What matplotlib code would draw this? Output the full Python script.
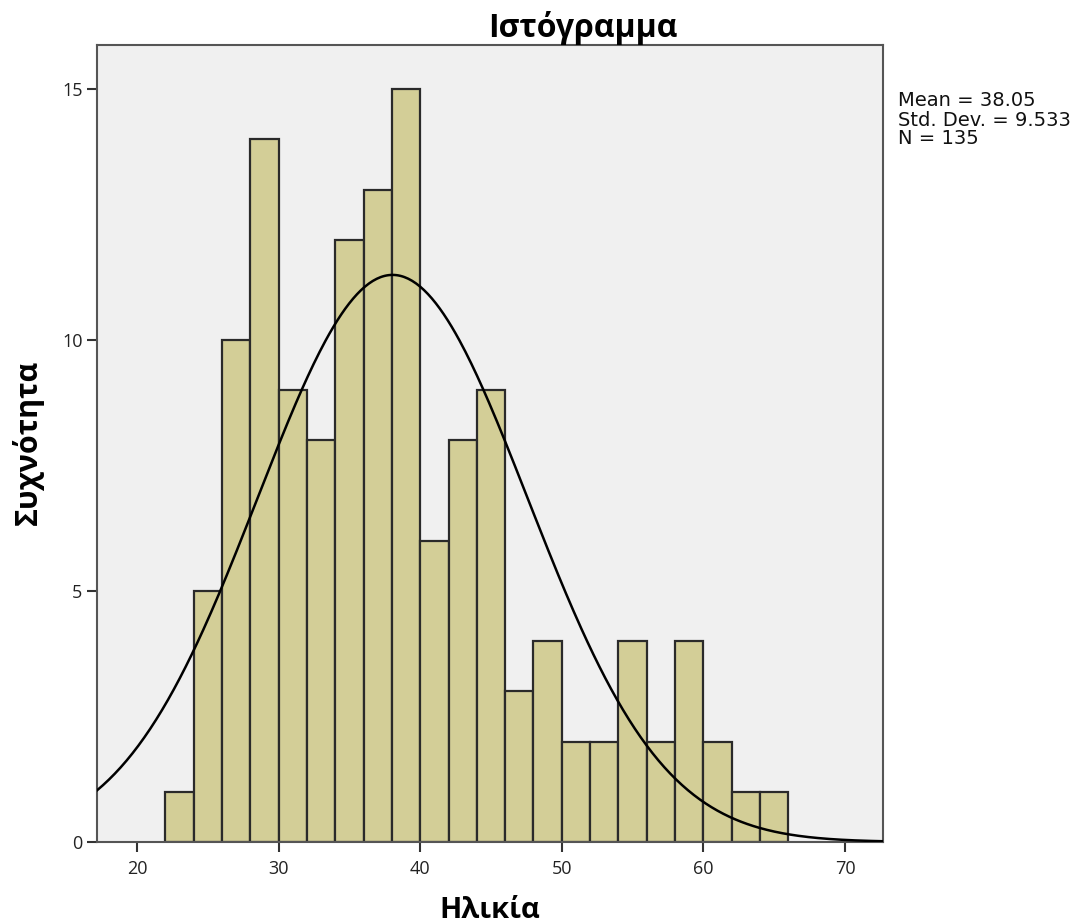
import numpy as np
import matplotlib
matplotlib.use("Agg")
import matplotlib.pyplot as plt

bin_edges = [22, 24, 26, 28, 30, 32, 34, 36, 38, 40, 42, 44, 46, 48, 50, 52, 54, 56, 58, 60, 62, 64, 66]
counts = [1, 5, 10, 14, 9, 8, 12, 13, 15, 6, 8, 9, 3, 4, 2, 2, 4, 2, 4, 2, 1, 1]
mean = 38.05
std = 9.533
n = 135
x_ticks = [20, 30, 40, 50, 60, 70]
y_ticks = [0, 5, 10, 15]

plt.rcParams['font.family'] = ['Open Sans', 'DejaVu Sans']

fig = plt.figure(figsize=(10.74, 9.24), dpi=100)
ax = fig.add_axes([97/1074, 82/924, 786/1074, 797/924])
ax.set_facecolor('#F0F0F0')

lefts = bin_edges[:-1]
widths = np.diff(bin_edges)
ax.bar(lefts, counts, width=widths, align='edge', color='#D3CE97',
       edgecolor='#2a2a2a', linewidth=1.6, zorder=2)

binw = bin_edges[1] - bin_edges[0]
xs = np.linspace(17.18, 72.68, 400)
ys = n * binw * np.exp(-0.5 * ((xs - mean) / std) ** 2) / (std * np.sqrt(2 * np.pi))
ax.plot(xs, ys, color='black', linewidth=1.8, zorder=3)

ax.set_xlim(17.18, 72.68)
ax.set_ylim(0, 15.88)
ax.set_xticks(x_ticks)
ax.set_yticks(y_ticks)
ax.tick_params(axis='both', direction='out', length=7, width=1.5, color='#333333',
               labelsize=13, labelcolor='#222222')
ax.tick_params(axis='x', pad=6)
for s in ax.spines.values():
    s.set_color('#555555')
    s.set_linewidth(1.5)

fig.text(583/1074, 1 - 28/924, 'Ιστόγραμμα', ha='center', va='center',
         fontsize=23, fontweight='bold')
fig.text(490/1074, 1 - 910/924, 'Ηλικία', ha='center', va='center',
         fontsize=21, fontweight='bold')
fig.text(28/1074, 1 - 442/924, 'Συχνότητα', ha='center', va='center',
         rotation=90, fontsize=22, fontweight='bold')

fig.text(898/1074, 1 - 120/924, 'Mean = 38.05\nStd. Dev. = 9.533\nN = 135',
         ha='left', va='center', fontsize=14, linespacing=1.0, color='#111111',
         family='DejaVu Sans')

fig.savefig('out.png', dpi=100)
